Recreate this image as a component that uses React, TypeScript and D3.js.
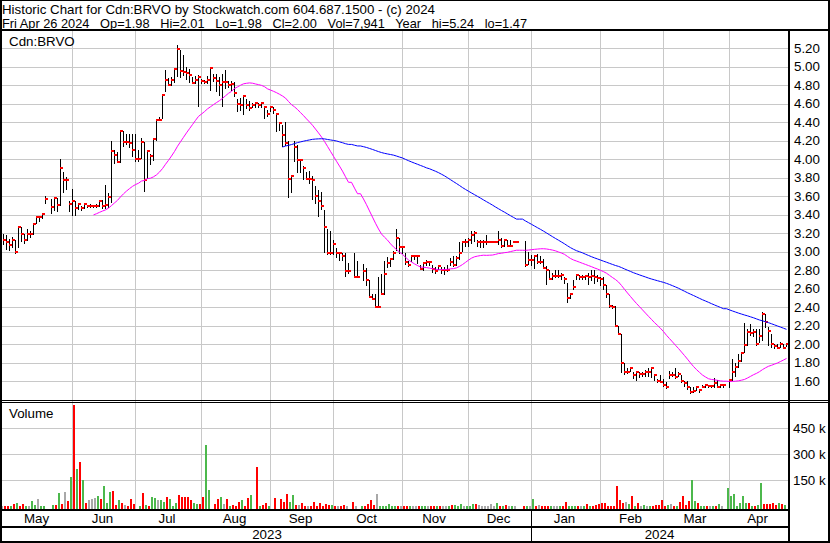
import React from 'react'
import * as d3 from 'd3'

// daily bars, May 1 2023 .. Apr 26 2024 (null = no trade)
const CLOSE: (number | null)[] = [
  3.13, 3.10, 3.07, 3.13, 3.00, 3.27, 3.19, 3.13, 3.19, 3.19,
  3.30, 3.37, 3.37, 3.41, 3.57, null, 3.48, 3.58, 3.50, 3.90,
  3.78, 3.78, 3.52, 3.55, 3.47, 3.51, 3.47, 3.51, 3.49, 3.49,
  3.49, 3.49, 3.55, 3.49, 3.50, 3.59, 4.09, 4.05, 3.97, 4.30,
  4.19, 4.19, 4.17, 4.10, 4.00, 4.00, 4.19, 3.78, 4.09, 4.04,
  4.22, 4.42, 4.42, 4.69, 4.86, 4.80, 4.86, 4.98, 5.19, 4.95,
  4.94, 4.93, 4.91, 4.82, 4.86, 4.89, 4.85, 4.84, 4.86, 4.99,
  4.88, 4.85, 4.80, 4.84, 4.84, 4.80, 4.81, 4.72, 4.60, 4.59,
  4.68, 4.59, 4.55, 4.59, 4.61, 4.59, 4.61, 4.56, 4.49, 4.56,
  4.53, 4.49, 4.39, 4.26, 4.18, 3.79, 3.82, 4.13, 3.99, 3.99,
  3.90, 3.79, 3.79, 3.78, 3.60, 3.55, 3.49, 3.27, 2.99, 2.98,
  3.08, 2.98, 2.98, 2.95, 2.79, 2.79, null, 2.73, 2.73, null,
  2.79, 2.69, 2.51, 2.49, 2.40, 2.40, 2.54, 2.76, 2.88, 2.92,
  2.98, 3.15, 3.05, 3.05, 2.89, 2.86, 2.95, 2.95, 2.95, 2.81,
  2.88, 2.89, 2.89, 2.81, 2.79, 2.84, 2.80, 2.80, 2.80, 2.89,
  2.86, 2.93, 2.99, 3.10, 3.10, 3.13, 3.18, 3.20, 3.10, 3.10,
  3.10, 3.10, 3.10, 3.10, 3.10, 3.13, 3.06, 3.13, 3.06, 3.06,
  3.10, 3.10, null, null, 2.85, 2.91, 2.91, 2.95, 2.89, 2.89,
  2.82, 2.80, 2.70, 2.74, 2.74, 2.74, 2.75, 2.70, 2.50, 2.54,
  2.62, 2.75, 2.73, 2.73, 2.74, 2.73, 2.74, 2.72, 2.71, 2.70,
  2.64, 2.54, 2.41, 2.40, 2.19, 2.11, 1.79, 1.70, 1.70, 1.74,
  1.66, 1.70, 1.68, 1.68, 1.70, 1.70, 1.74, 1.66, 1.60, 1.59,
  1.56, 1.54, 1.66, 1.66, 1.64, 1.68, 1.60, 1.58, 1.53, 1.48,
  1.49, 1.53, 1.50, 1.54, 1.56, 1.55, 1.55, 1.58, 1.54, 1.56,
  1.56, null, 1.61, 1.70, 1.75, 1.82, 1.90, 1.99, 2.13, 2.12,
  2.13, 2.00, 2.09, 2.33, 2.24, 2.14, 2.00, 1.98, 1.96, 2.00,
  1.96, 2.00,
]

const HIGH: (number | null)[] = [
  3.19, 3.18, 3.14, 3.16, 3.13, 3.28, 3.27, 3.19, 3.24, 3.22,
  3.31, 3.37, 3.38, 3.42, 3.60, null, 3.57, 3.59, 3.58, 4.00,
  3.86, 3.81, 3.55, 3.68, 3.55, 3.53, 3.49, 3.53, 3.50, 3.51,
  3.50, 3.51, 3.56, 3.56, 3.72, 3.63, 4.20, 4.10, 4.08, 4.31,
  4.30, 4.27, 4.27, 4.27, 4.27, 4.10, 4.23, 4.19, 4.10, 4.06,
  4.23, 4.43, 4.46, 4.69, 4.97, 4.88, 4.89, 4.99, 5.24, 5.18,
  5.13, 5.00, 4.98, 4.89, 4.90, 4.91, 4.87, 4.86, 4.90, 5.00,
  4.92, 4.92, 4.89, 4.92, 4.96, 4.85, 4.85, 4.84, 4.65, 4.66,
  4.69, 4.65, 4.63, 4.61, 4.62, 4.61, 4.62, 4.56, 4.53, 4.56,
  4.56, 4.50, 4.40, 4.37, 4.40, 4.20, 3.83, 4.20, 4.15, 4.00,
  3.93, 3.86, 3.87, 3.82, 3.71, 3.67, 3.64, 3.45, 3.24, 3.22,
  3.13, 3.04, 2.99, 2.98, 2.98, 2.88, null, 2.98, 2.90, null,
  2.87, 2.82, 2.69, 2.54, 2.54, 2.72, 2.76, 2.90, 2.94, 2.93,
  3.01, 3.24, 3.15, 3.05, 2.99, 2.90, 2.95, 2.96, 2.95, 2.86,
  2.89, 2.91, 2.89, 2.86, 2.83, 2.86, 2.83, 2.83, 2.85, 2.93,
  2.95, 2.95, 3.10, 3.12, 3.14, 3.15, 3.22, 3.22, 3.13, 3.13,
  3.13, 3.18, 3.10, 3.10, 3.10, 3.22, 3.15, 3.13, 3.13, 3.13,
  3.10, 3.10, null, null, 3.11, 3.00, 2.96, 2.96, 2.97, 2.95,
  2.92, 2.84, 2.80, 2.77, 2.80, 2.80, 2.77, 2.73, 2.66, 2.55,
  2.69, 2.75, 2.75, 2.75, 2.75, 2.77, 2.80, 2.80, 2.75, 2.73,
  2.73, 2.64, 2.54, 2.42, 2.41, 2.19, 2.11, 1.79, 1.74, 1.74,
  1.70, 1.70, 1.70, 1.70, 1.72, 1.74, 1.74, 1.66, 1.62, 1.66,
  1.62, 1.59, 1.71, 1.70, 1.74, 1.70, 1.66, 1.60, 1.60, 1.53,
  1.53, 1.53, 1.51, 1.56, 1.56, 1.56, 1.56, 1.63, 1.61, 1.57,
  1.57, null, 1.62, 1.84, 1.79, 1.89, 1.91, 2.23, 2.16, 2.22,
  2.16, 2.16, 2.16, 2.35, 2.33, 2.18, 2.11, 2.00, 2.00, 2.02,
  2.00, 2.01,
]

const LOW: (number | null)[] = [
  3.08, 3.03, 3.02, 3.05, 2.99, 3.05, 3.12, 3.09, 3.13, 3.16,
  3.19, 3.31, 3.33, 3.36, 3.53, null, 3.42, 3.45, 3.44, 3.50,
  3.64, 3.68, 3.44, 3.40, 3.40, 3.46, 3.45, 3.47, 3.48, 3.48,
  3.48, 3.48, 3.49, 3.47, 3.47, 3.48, 3.54, 3.96, 3.97, 3.97,
  4.14, 4.16, 4.13, 4.03, 3.98, 3.98, 4.01, 3.66, 3.80, 3.95,
  3.99, 4.21, 4.42, 4.45, 4.74, 4.80, 4.80, 4.84, 4.90, 4.89,
  4.91, 4.87, 4.84, 4.82, 4.82, 4.58, 4.82, 4.82, 4.82, 4.75,
  4.85, 4.74, 4.70, 4.58, 4.77, 4.78, 4.75, 4.68, 4.52, 4.53,
  4.49, 4.55, 4.53, 4.56, 4.57, 4.56, 4.57, 4.45, 4.47, 4.52,
  4.50, 4.31, 4.32, 4.14, 4.15, 3.59, 3.65, 3.98, 3.86, 3.86,
  3.79, 3.79, 3.74, 3.57, 3.53, 3.39, 3.46, 3.00, 2.97, 2.97,
  2.97, 2.94, 2.91, 2.91, 2.74, 2.77, null, 2.72, 2.72, null,
  2.69, 2.64, 2.51, 2.49, 2.40, 2.40, 2.54, 2.54, 2.83, 2.84,
  2.92, 3.02, 2.99, 2.98, 2.87, 2.84, 2.90, 2.92, 2.88, 2.81,
  2.80, 2.86, 2.85, 2.78, 2.77, 2.81, 2.77, 2.76, 2.79, 2.86,
  2.84, 2.86, 2.92, 3.01, 3.06, 3.06, 3.09, 3.11, 3.06, 3.05,
  3.05, 3.08, 3.10, 3.10, 3.10, 3.08, 3.05, 3.06, 3.06, 3.06,
  3.10, 3.10, null, null, 2.84, 2.87, 2.86, 2.82, 2.88, 2.88,
  2.82, 2.65, 2.70, 2.70, 2.73, 2.73, 2.70, 2.66, 2.46, 2.50,
  2.60, 2.70, 2.70, 2.70, 2.70, 2.65, 2.69, 2.66, 2.68, 2.64,
  2.60, 2.51, 2.40, 2.39, 2.19, 2.11, 1.70, 1.68, 1.69, 1.71,
  1.63, 1.61, 1.64, 1.65, 1.65, 1.65, 1.64, 1.61, 1.59, 1.59,
  1.55, 1.52, 1.63, 1.65, 1.63, 1.65, 1.59, 1.55, 1.51, 1.47,
  1.48, 1.50, 1.48, 1.53, 1.54, 1.54, 1.54, 1.54, 1.54, 1.54,
  1.54, null, 1.53, 1.61, 1.65, 1.75, 1.82, 1.91, 1.99, 2.10,
  2.09, 1.99, 2.02, 2.04, 2.18, 1.99, 1.97, 1.96, 1.96, 1.97,
  1.96, 1.98,
]

// thousands of shares
const VOLUME: number[] = [
  2, 2, 1, 1, 15, 21, 1, 15, 1, 1,
  31, 8, 40, 2, 1, 0, 0, 8, 8, 77,
  13, 85, 31, 171, 585, 215, 258, 152, 21, 35,
  40, 46, 60, 40, 119, 21, 85, 90, 8, 37,
  21, 8, 1, 42, 15, 0, 4, 77, 8, 1,
  54, 48, 37, 37, 27, 56, 42, 2, 21, 65,
  56, 52, 56, 37, 17, 15, 15, 56, 354, 94,
  0, 15, 42, 54, 15, 40, 2, 8, 4, 23,
  35, 1, 48, 65, 0, 229, 1, 8, 17, 1,
  0, 46, 0, 42, 23, 71, 27, 65, 8, 8,
  17, 1, 2, 2, 23, 2, 17, 2, 15, 8,
  8, 1, 1, 1, 8, 1, 0, 23, 1, 0,
  1, 4, 12, 37, 8, 71, 2, 1, 2, 12,
  2, 1, 2, 1, 1, 1, 1, 1, 1, 1,
  2, 1, 1, 2, 1, 2, 2, 1, 2, 1,
  8, 6, 1, 13, 1, 1, 1, 15, 13, 6,
  2, 1, 2, 12, 1, 21, 1, 1, 8, 1,
  1, 1, 0, 0, 1, 1, 1, 42, 2, 8,
  1, 1, 1, 1, 1, 2, 1, 1, 25, 1,
  2, 1, 1, 1, 1, 13, 1, 2, 8, 13,
  19, 19, 1, 1, 1, 119, 37, 17, 27, 13,
  60, 1, 19, 1, 8, 1, 2, 2, 8, 8,
  37, 1, 8, 12, 1, 1, 23, 62, 6, 31,
  152, 31, 21, 1, 1, 1, 2, 1, 1, 15,
  1, 0, 104, 60, 73, 2, 17, 60, 21, 19,
  1, 1, 8, 137, 15, 15, 15, 17, 8, 17,
  13, 8,
]

const MONTHS = ['May', 'Jun', 'Jul', 'Aug', 'Sep', 'Oct', 'Nov', 'Dec', 'Jan', 'Feb', 'Mar', 'Apr']
const MONTH_START = [0, 23, 44, 66, 89, 110, 133, 155, 176, 199, 220, 242]
const YEARS = ['2023', '2024']
const YEAR_START = [0, 176]
const PRICE_TICKS = [1.6, 1.8, 2.0, 2.2, 2.4, 2.6, 2.8, 3.0, 3.2, 3.4, 3.6, 3.8, 4.0, 4.2, 4.4, 4.6, 4.8, 5.0, 5.2]
const VOLUME_TICKS = [150, 300, 450]
const MA_FAST = 30
const MA_SLOW = 93

const TITLE = 'Historic Chart for Cdn:BRVO by Stockwatch.com 604.687.1500 - (c) 2024'
const QUOTE = 'Fri Apr 26 2024   Op=1.98   Hi=2.01   Lo=1.98   Cl=2.00   Vol=7,941   Year   hi=5.24   lo=1.47'

const FONT = 'Liberation Sans, Arial, sans-serif'
const FS = 13.33
const GRID = '#c8c8c8'
const UP = '#4cb84c'
const DOWN = '#ff0000'
const FLAT = '#a8a8a8'

function movingAverage(values: (number | null)[], window: number) {
  const buf: number[] = []
  return values.map((v) => {
    if (v != null) {
      buf.push(v)
      if (buf.length > window) buf.shift()
    }
    return buf.length === window ? (d3.mean(buf) as number) : null
  })
}

export default function App() {
  const n = CLOSE.length
  const plotRight = 788
  const x = d3.scaleBand<number>().domain(d3.range(n)).range([3, 3 + 3 * n])
  const px = (i: number) => x(i) ?? 0
  const yP = d3.scaleLinear().domain([1.6, 5.2]).range([381, 48.3])
  const yV = d3.scaleLinear().domain([0, 450]).range([506.3, 428.3])

  const fast = movingAverage(CLOSE, MA_FAST)
  const slow = movingAverage(CLOSE, MA_SLOW)
  const maLine = d3
    .line<number | null>()
    .defined((d) => d != null)
    .x((_, i) => px(i) + 0.5)
    .y((d) => yP(d as number))

  const volColor = (i: number) => {
    let j = i - 1
    while (j >= 0 && CLOSE[j] == null) j--
    const c = CLOSE[i]
    if (c == null || j < 0) return FLAT
    const p = CLOSE[j] as number
    return c > p + 1e-9 ? UP : c < p - 1e-9 ? DOWN : FLAT
  }

  const monthEdges = [...MONTH_START.map((s) => px(s)), plotRight]
  const yearEdges = [...YEAR_START.map((s) => px(s)), plotRight]

  return (
    <svg
      width={830}
      height={543}
      style={{ position: 'absolute', left: 0, top: 0, display: 'block' }}
      fontFamily={FONT}
      fontSize={FS}
    >
      <rect width={830} height={543} fill="#fff" />

      <text x={2} y={13.5} fontSize={13} textLength={433} lengthAdjust="spacingAndGlyphs" fill="#000">
        {TITLE}
      </text>
      <text
        x={2}
        y={28.2}
        fontSize={13}
        textLength={525}
        lengthAdjust="spacingAndGlyphs"
        fill="#000"
        style={{ whiteSpace: 'pre' }}
      >
        {QUOTE}
      </text>

      {/* grid */}
      {PRICE_TICKS.map((t) => (
        <line key={`pg${t}`} x1={2} x2={plotRight} y1={Math.round(yP(t)) + 0.5} y2={Math.round(yP(t)) + 0.5} stroke={GRID} />
      ))}
      {VOLUME_TICKS.map((t) => (
        <line key={`vg${t}`} x1={2} x2={plotRight} y1={Math.round(yV(t)) + 0.5} y2={Math.round(yV(t)) + 0.5} stroke={GRID} />
      ))}
      {MONTH_START.slice(1).map((s) => (
        <line key={`mg${s}`} x1={px(s) + 0.5} x2={px(s) + 0.5} y1={31} y2={509} stroke={GRID} />
      ))}

      {/* volume */}
      {VOLUME.map((v, i) => {
        if (!v) return null
        const top = Math.min(Math.round(yV(v)), 508)
        return <rect key={`v${i}`} x={px(i) - 2} y={top} width={2} height={509 - top} fill={volColor(i)} />
      })}

      {/* price bars */}
      {CLOSE.map((c, i) => {
        const hi = HIGH[i]
        const lo = LOW[i]
        if (c == null || hi == null || lo == null) return null
        const yh = Math.round(yP(hi))
        const yl = Math.round(yP(lo))
        return (
          <g key={`b${i}`}>
            <rect x={px(i)} y={yh} width={1} height={Math.max(1, yl - yh + 1)} fill="#000" />
            <rect x={px(i)} y={Math.round(yP(c)) - 1} width={3} height={2} fill="#ff0000" />
          </g>
        )
      })}

      <path d={maLine(fast) ?? ''} fill="none" stroke="#ff00ff" strokeWidth={1} />
      <path d={maLine(slow) ?? ''} fill="none" stroke="#0000ff" strokeWidth={1} />

      <text x={9} y={46} fill="#000">Cdn:BRVO</text>
      <text x={9} y={418} fill="#000">Volume</text>

      {/* right axis */}
      {PRICE_TICKS.map((t) => (
        <text key={`pt${t}`} x={794} y={yP(t)} dy="0.35em" fill="#000">
          {t.toFixed(2)}
        </text>
      ))}
      {VOLUME_TICKS.map((t) => (
        <text key={`vt${t}`} x={793} y={yV(t)} dy="0.35em" fill="#000">
          {`${t} k`}
        </text>
      ))}

      {/* time axis */}
      {MONTHS.map((m, k) => (
        <text key={m} x={(monthEdges[k] + monthEdges[k + 1]) / 2 - 1} y={523} textAnchor="middle" fill="#000">
          {m}
        </text>
      ))}
      {YEARS.map((yr, k) => (
        <text key={yr} x={(yearEdges[k] + yearEdges[k + 1]) / 2} y={539} textAnchor="middle" fill="#000">
          {yr}
        </text>
      ))}

      {/* frame */}
      <g fill="#000">
        <rect x={0} y={0} width={830} height={1} />
        <rect x={0} y={0} width={2} height={543} />
        <rect x={828} y={0} width={2} height={543} />
        <rect x={0} y={541} width={830} height={2} />
        <rect x={0} y={29} width={830} height={2} />
        <rect x={0} y={400} width={830} height={1} />
        <rect x={0} y={402} width={830} height={1} />
        <rect x={0} y={509} width={plotRight + 2} height={2} />
        <rect x={0} y={526} width={plotRight + 2} height={2} />
        <rect x={plotRight} y={31} width={2} height={512} />
        <rect x={px(YEAR_START[1])} y={511} width={1} height={30} />
      </g>
    </svg>
  )
}
